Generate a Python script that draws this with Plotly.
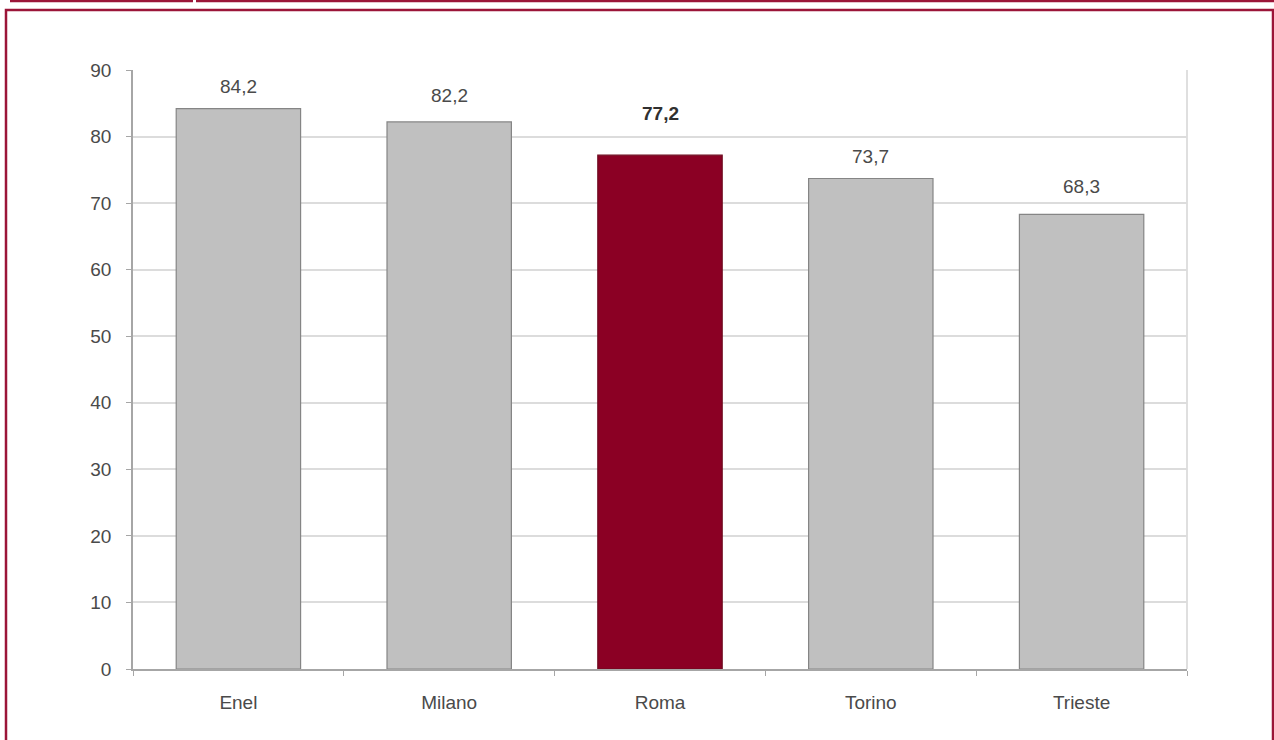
import plotly.graph_objects as go

categories = ["Enel", "Milano", "Roma", "Torino", "Trieste"]
values = [84.2, 82.2, 77.2, 73.7, 68.3]
value_labels = ["84,2", "82,2", "77,2", "73,7", "68,3"]
y_ticks = [0, 10, 20, 30, 40, 50, 60, 70, 80, 90]

# styling (not data)
highlight = "Roma"
label_yshift = [22, 26, 42, 22, 28]

W, H = 1274, 740
L, R, T, B = 133, 1187, 70, 669  # plot area pixel box

grey_fill = "#c0c0c0"
grey_line = "#858585"
red_fill = "#8b0024"
frame_red = "#9b1538"
text_col = "#4a4a4a"
font_fam = "Arial, 'Liberation Sans', sans-serif"

fills = [red_fill if c == highlight else grey_fill for c in categories]
lines = ["#6e0a1f" if c == highlight else grey_line for c in categories]

fig = go.Figure(go.Bar(
    x=categories, y=values,
    marker=dict(color=fills, line=dict(color=lines, width=1.2)),
    hoverinfo="skip",
))

for i, (c, v, t) in enumerate(zip(categories, values, value_labels)):
    txt = f"<b>{t}</b>" if c == highlight else t
    fig.add_annotation(x=c, y=v, text=txt, showarrow=False, yshift=label_yshift[i],
                       font=dict(size=19, color="#303030" if c == highlight else text_col, family=font_fam))

def px(x):
    return (x - L) / (R - L)

def py(y):
    return (B - y) / (B - T)

shapes = [
    # top strip lines
    dict(type="line", xref="paper", yref="paper", x0=px(10), x1=px(193), y0=py(1), y1=py(1),
         line=dict(color=frame_red, width=2.5)),
    dict(type="line", xref="paper", yref="paper", x0=px(196), x1=px(1274), y0=py(1), y1=py(1),
         line=dict(color=frame_red, width=2.5)),
    # frame
    dict(type="rect", xref="paper", yref="paper", x0=px(6), x1=px(1273), y0=py(10), y1=py(760),
         line=dict(color=frame_red, width=2.5), fillcolor="rgba(0,0,0,0)"),
    # plot area right border
    dict(type="line", xref="paper", yref="paper", x0=1, x1=1, y0=0, y1=1,
         line=dict(color="#d4d4d4", width=1.5), layer="below"),
]

fig.update_layout(
    width=W, height=H,
    margin=dict(l=L, r=W - R, t=T, b=H - B, pad=0),
    paper_bgcolor="white", plot_bgcolor="white",
    bargap=0.41,
    showlegend=False,
    shapes=shapes,
    font=dict(family=font_fam, size=19, color=text_col),
)
fig.update_yaxes(
    range=[0, 90], tickvals=y_ticks, ticktext=[str(v) for v in y_ticks],
    showgrid=True, gridcolor="#dcdcdc", gridwidth=1.5,
    showline=True, linecolor="#a6a6a6", linewidth=1.5,
    ticks="outside", ticklen=5, tickcolor="#a6a6a6",
    tickfont=dict(size=19, color=text_col), zeroline=False, ticklabelstandoff=11,
)
fig.update_xaxes(
    showline=True, linecolor="#a6a6a6", linewidth=1.5,
    ticks="outside", ticklen=5, tickcolor="#a6a6a6", tickson="boundaries",
    tickfont=dict(size=19, color=text_col), ticklabelstandoff=15,
    range=[-0.5, 4.5],
)

fig.write_html("out.html")
